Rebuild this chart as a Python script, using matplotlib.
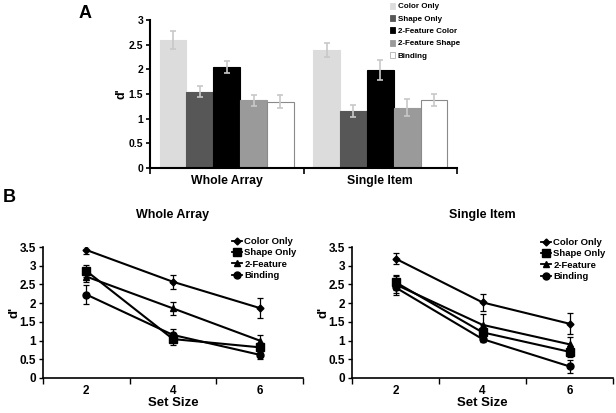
import matplotlib
matplotlib.use("Agg")
import matplotlib.pyplot as plt
import numpy as np
from matplotlib.patches import Patch
from matplotlib.lines import Line2D

plt.rcParams['font.family'] = ['Liberation Sans', 'DejaVu Sans']
plt.rcParams['font.weight'] = 'bold'

# Panel A data
groups = ["Whole Array", "Single Item"]
conditions = ["Color Only", "Shape Only", "2-Feature Color", "2-Feature Shape", "Binding"]
bar_vals = {
    "Color Only":      [2.60, 2.39],
    "Shape Only":      [1.55, 1.16],
    "2-Feature Color": [2.04, 1.99],
    "2-Feature Shape": [1.37, 1.22],
    "Binding":         [1.34, 1.37],
}
bar_errs = {
    "Color Only":      [0.18, 0.14],
    "Shape Only":      [0.12, 0.12],
    "2-Feature Color": [0.12, 0.20],
    "2-Feature Shape": [0.11, 0.17],
    "Binding":         [0.13, 0.12],
}
bar_colors = ["#dcdcdc", "#575757", "#000000", "#9a9a9a", "#ffffff"]

# Panel B data
set_sizes = ["2", "4", "6"]
line_series = ["Color Only", "Shape Only", "2-Feature", "Binding"]
whole_vals = {
    "Color Only": [3.42, 2.57, 1.87],
    "Shape Only": [2.86, 1.04, 0.82],
    "2-Feature":  [2.71, 1.86, 1.00],
    "Binding":    [2.23, 1.15, 0.62],
}
whole_errs = {
    "Color Only": [0.10, 0.19, 0.28],
    "Shape Only": [0.17, 0.16, 0.12],
    "2-Feature":  [0.15, 0.18, 0.15],
    "Binding":    [0.26, 0.15, 0.10],
}
single_vals = {
    "Color Only": [3.19, 2.02, 1.45],
    "Shape Only": [2.56, 1.22, 0.70],
    "2-Feature":  [2.50, 1.42, 0.90],
    "Binding":    [2.42, 1.04, 0.31],
}
single_errs = {
    "Color Only": [0.15, 0.23, 0.28],
    "Shape Only": [0.20, 0.20, 0.15],
    "2-Feature":  [0.22, 0.30, 0.19],
    "Binding":    [0.20, 0.08, 0.18],
}
markers = {"Color Only": "D", "Shape Only": "s", "2-Feature": "^", "Binding": "o"}
msizes = {"Color Only": 3.5, "Shape Only": 5.5, "2-Feature": 5, "Binding": 5}

W, H = 616, 413
fig = plt.figure(figsize=(W / 100, H / 100), dpi=100)

def ax_rect(x0, y0, x1, y1):
    return [x0 / W, 1 - y1 / H, (x1 - x0) / W, (y1 - y0) / H]

# ---------- Panel A ----------
axA = fig.add_axes(ax_rect(150, 20, 457, 168))
n = len(conditions)
bw = 0.175
xg = np.arange(len(groups))
for i, c in enumerate(conditions):
    off = (i - (n - 1) / 2) * bw
    axA.bar(xg + off, bar_vals[c], bw, color=bar_colors[i],
            edgecolor="#8a8a8a" if c == "Binding" else bar_colors[i],
            linewidth=0.8, label=c, zorder=2)
    axA.errorbar(xg + off, bar_vals[c], yerr=bar_errs[c], fmt="none",
                 ecolor="#c8c8c8", elinewidth=1.2, capsize=2, capthick=1.2, zorder=3)
axA.set_xlim(-0.5, 1.5)
axA.set_ylim(0, 3)
axA.set_yticks([0, 0.5, 1, 1.5, 2, 2.5, 3])
axA.set_yticklabels(["0", "0.5", "1", "1.5", "2", "2.5", "3"])
axA.set_xticks(xg)
axA.set_xticklabels(groups, fontsize=8.8, fontweight="bold")
axA.set_xticks([-0.5, 0.5, 1.5], minor=True)
axA.tick_params(axis="x", which="major", length=0, pad=5)
axA.tick_params(axis="x", which="minor", length=4, width=1.2, direction="out")
axA.tick_params(axis="y", labelsize=7.5, length=3, width=1.2, pad=2)
for s in ["top", "right"]:
    axA.spines[s].set_visible(False)
axA.spines["left"].set_linewidth(1.5)
axA.spines["bottom"].set_linewidth(1.5)
axA.set_ylabel("d'", fontsize=9, fontweight="bold", labelpad=1)
handlesA = [Patch(facecolor=bar_colors[i],
                  edgecolor="#b0b0b0" if conditions[i] == "Binding" else bar_colors[i],
                  linewidth=0.6, label=conditions[i]) for i in range(n)]
fig.legend(handles=handlesA, loc="upper left", bbox_to_anchor=(388 / W, 1 - 1 / H),
           frameon=False, fontsize=5.8, handlelength=0.7, handleheight=0.8,
           handletextpad=0.3, labelspacing=0.55, borderaxespad=0, borderpad=0.2)

fig.text(85 / W, 1 - 13 / H, "A", fontsize=13, fontweight="bold", ha="center", va="center")
fig.text(9 / W, 1 - 197 / H, "B", fontsize=13, fontweight="bold", ha="center", va="center")

# ---------- Panel B ----------
def line_panel(rect, vals, errs, title, leg_anchor):
    ax = fig.add_axes(rect)
    x = np.arange(len(set_sizes))
    for s in line_series:
        ax.errorbar(x, vals[s], yerr=errs[s], color="black", marker=markers[s],
                    markersize=msizes[s], linewidth=1.5, elinewidth=0.9,
                    capsize=2, capthick=0.9, label=s)
    ax.set_xlim(-0.5, 2.5)
    ax.set_ylim(0, 3.5)
    ax.set_yticks([0, 0.5, 1, 1.5, 2, 2.5, 3, 3.5])
    ax.set_yticklabels(["0", "0.5", "1", "1.5", "2", "2.5", "3", "3.5"])
    ax.set_xticks(x)
    ax.set_xticklabels(set_sizes, fontsize=8.5, fontweight="bold")
    ax.set_xticks([-0.5, 0.5, 1.5, 2.5], minor=True)
    ax.tick_params(axis="x", which="major", length=0, pad=5)
    ax.tick_params(axis="x", which="minor", length=4, width=1.0, direction="out")
    ax.tick_params(axis="y", labelsize=8.5, length=3, width=1.0, pad=2)
    for sp in ["top", "right"]:
        ax.spines[sp].set_visible(False)
    ax.spines["left"].set_linewidth(1.2)
    ax.spines["bottom"].set_linewidth(1.2)
    ax.set_ylabel("d'", fontsize=9.5, fontweight="bold", labelpad=-1)
    ax.set_xlabel("Set Size", fontsize=9.5, fontweight="bold", labelpad=0)
    ax.set_title(title, fontsize=9, fontweight="bold", pad=21)
    handles = [Line2D([0], [0], color="black", marker=markers[s], markersize=msizes[s],
                      linewidth=1.3, label=s) for s in line_series]
    fig.legend(handles=handles, loc="upper left", bbox_to_anchor=leg_anchor,
               frameon=False, fontsize=6.8, handlelength=1.1, handletextpad=0.2,
               labelspacing=0.25, borderaxespad=0, borderpad=0)
    return ax

line_panel(ax_rect(43, 247, 303, 378), whole_vals, whole_errs, "Whole Array",
           (232 / W, 1 - 237 / H))
line_panel(ax_rect(352, 247, 613, 378), single_vals, single_errs, "Single Item",
           (541 / W, 1 - 238 / H))

fig.savefig("out.png", dpi=100)
